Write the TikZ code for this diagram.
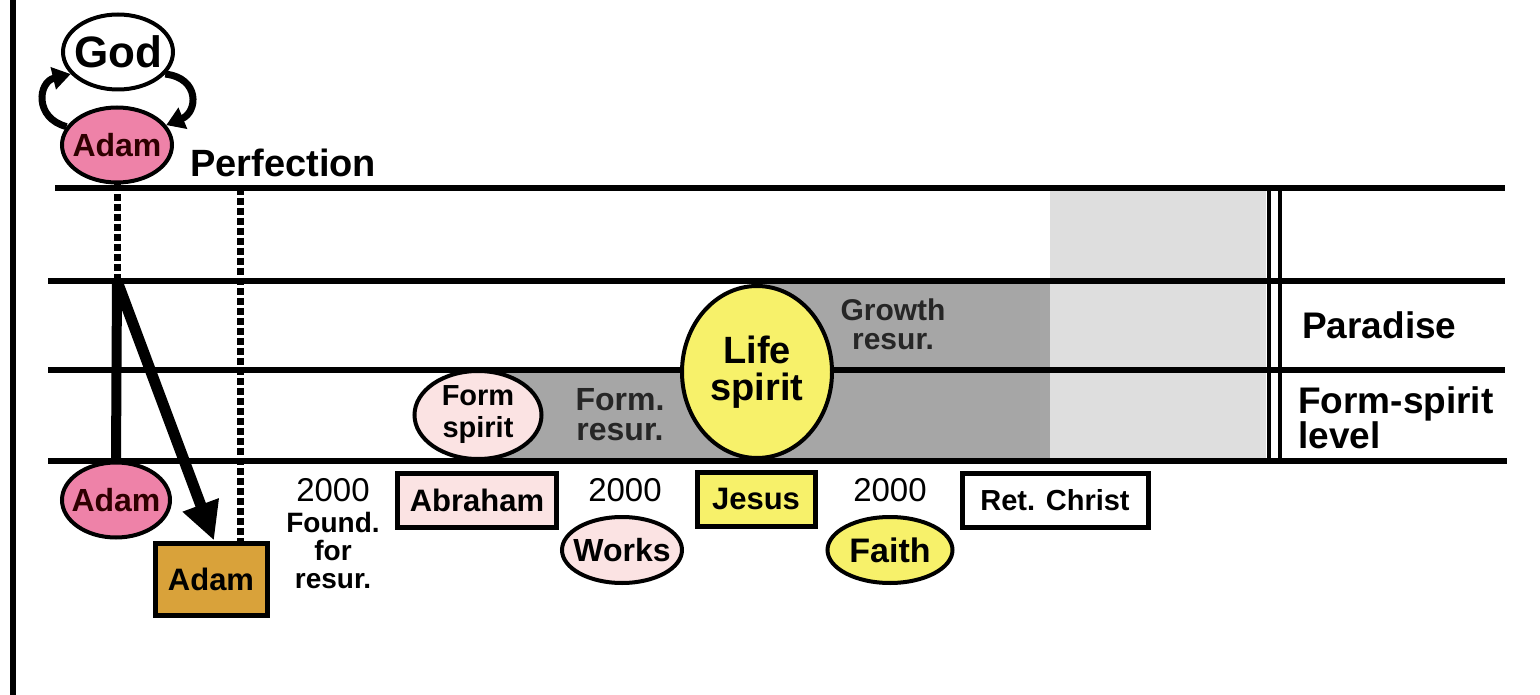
\documentclass[tikz,border=0pt]{standalone}
\usepackage{fontspec}
\setmainfont{Liberation Sans}
\usepackage{tikz}
\usetikzlibrary{arrows.meta,positioning,shapes.geometric}

\definecolor{adampink}{HTML}{EE82A8}
\definecolor{palepink}{HTML}{FBE3E3}
\definecolor{lifeyellow}{HTML}{F7F16A}
\definecolor{adamgold}{HTML}{D9A23A}
\definecolor{growgray}{HTML}{A6A6A6}
\definecolor{fullgray}{HTML}{DEDEDE}

\begin{document}
\begin{tikzpicture}[
    x=1pt, y=-1pt,
    level/.style={line width=6pt},
    dotline/.style={line width=7pt, dash pattern=on 7pt off 3pt},
    person/.style={draw, ellipse, line width=4pt, inner xsep=-14pt, inner ysep=0pt, minimum width=110pt, minimum height=75pt, fill=adampink, text=black!70!red!60!black, font=\bfseries\fontsize{32}{34}\selectfont},
    spirit/.style={draw, ellipse, line width=4pt, inner xsep=-12pt, inner ysep=0pt, align=center},
    figure/.style={draw, rectangle, line width=5pt, inner sep=0pt, minimum height=54pt, font=\bfseries\fontsize{31}{33}\selectfont},
    label/.style={align=center, inner sep=0pt, font=\bfseries\fontsize{30}{29}\selectfont},
    years/.style={inner sep=0pt, font=\fontsize{33}{35}\selectfont},
    cycarrow/.style={line width=7pt, -{Triangle[length=18pt,width=22pt]}},
    fallarrow/.style={line width=11pt, -{Triangle[length=38pt,width=36pt]}}
]
\useasboundingbox (0,0) rectangle (1540,695);

\fill[growgray] (500,370) rectangle (1050,461);
\fill[growgray] (757,281) rectangle (1050,370);
\fill[fullgray] (1050,188) rectangle (1266,461);

\draw[line width=6pt] (13,0) -- (13,695);
\draw[level] (55,188) -- (1505,188);
\draw[level] (48,281) -- (1505,281);
\draw[level] (48,370) -- (1505,370);
\draw[level] (48,461) -- (1507,461);
\draw[line width=4.5pt] (1269,188) -- (1269,461);
\draw[line width=4.5pt] (1280,188) -- (1280,461);

\coordinate (fall) at (117,281);
\coordinate (found) at (240,188);

\node[spirit, fill=white, minimum width=110pt, minimum height=75pt, font=\bfseries\fontsize{44}{46}\selectfont] (god) at (118,52) {God};
\node[person] (adamtop) at (117,145) {Adam};
\node[person, minimum width=108pt] (adambot) at (116,500) {Adam};
\node[figure, fill=adamgold, minimum width=112pt, minimum height=72pt] (adambox) at (211,579) {Adam};

\node[label, anchor=west, font=\bfseries\fontsize{38}{40}\selectfont] (perfection) at (190,163) {Perfection};
\node[label, anchor=west, font=\bfseries\fontsize{37}{39}\selectfont] (paradise) at (1302,325) {Paradise};
\node[label, anchor=west, align=left, font=\bfseries\fontsize{37}{35}\selectfont] (formlevel) at (1298,418) {Form-spirit\\level};

\draw[dotline] (adamtop.south) -- (fall);
\draw[dotline] (found) -- (found |- adambox.north);
\draw[line width=10pt] (fall) -- (adambot.north);
\draw[fallarrow] (fall) -- ([xshift=3pt]adambox.north);

\draw[cycarrow] (adamtop.160) .. controls (34,118) and (38,82) .. (god.205);
\draw[cycarrow] (god.-25) .. controls (200,78) and (198,112) .. (adamtop.22);

\node[label, text=black!85, font=\bfseries\fontsize{32}{30}\selectfont] (formres) at (620,415) {Form.\\resur.};
\node[label, text=black!85] (growth) at (893,324) {Growth\\resur.};

\node[spirit, fill=palepink, minimum width=127pt, minimum height=88pt, font=\bfseries\fontsize{29}{32}\selectfont] (formspirit) at (478,415) {Form\\spirit};
\node[spirit, fill=lifeyellow, minimum width=150pt, minimum height=172pt, font=\bfseries\fontsize{38}{37}\selectfont] (lifespirit) at (757,372) {Life\\spirit};

\node[years] (year1) at (333,490) {2000};
\node[label, font=\bfseries\fontsize{28}{28}\selectfont, below=10pt of year1] (foundres) {Found.\\for\\resur.};
\node[figure, fill=palepink, minimum width=159pt] (abraham) at (477,500) {Abraham};
\node[years] (year2) at (625,490) {2000};
\node[spirit, fill=palepink, minimum width=120pt, minimum height=66pt, font=\bfseries\fontsize{32}{34}\selectfont] (works) at (622,550) {Works};
\node[figure, fill=lifeyellow, minimum width=118pt] (jesus) at (756,499) {Jesus};
\node[years] (year3) at (890,490) {2000};
\node[spirit, fill=lifeyellow, minimum width=125pt, minimum height=66pt, font=\bfseries\fontsize{34}{36}\selectfont] (faith) at (890,550) {Faith};
\node[figure, fill=white, minimum width=186pt, font=\bfseries\fontsize{29}{31}\selectfont] (retchrist) at (1055,500) {Ret. Christ};
\end{tikzpicture}
\end{document}
